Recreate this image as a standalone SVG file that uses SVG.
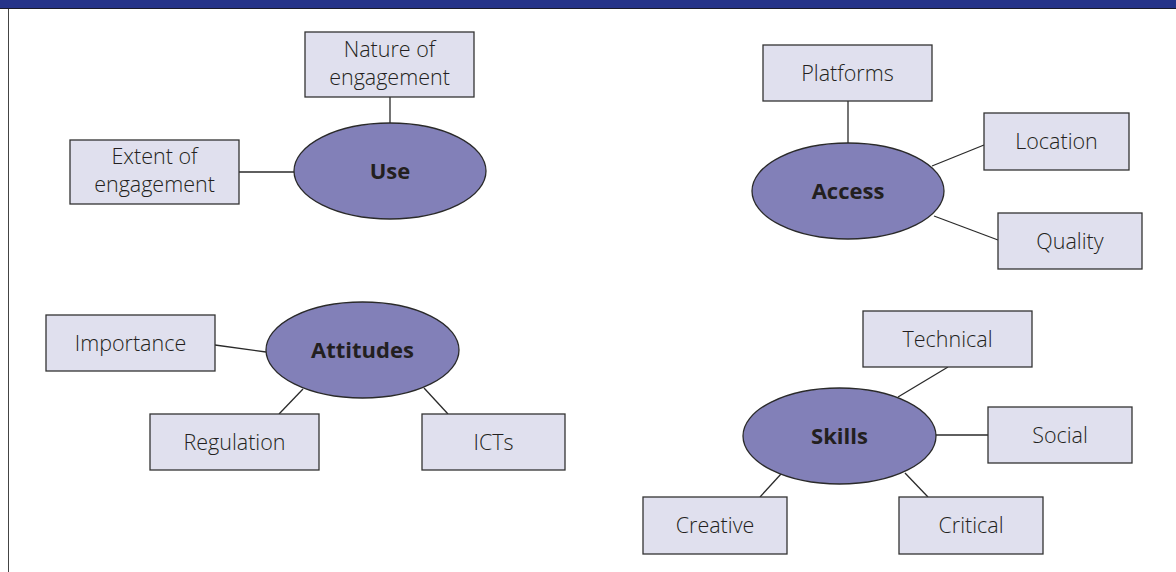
<svg xmlns="http://www.w3.org/2000/svg" width="1176" height="572" viewBox="0 0 1176 572">
<style>
.box{fill:#e0e0ee;stroke:#333;stroke-width:1.3}
.ell{fill:#8280b8;stroke:#2a2a2a;stroke-width:1.3}
.t{font-family:"Open Sans","Noto Sans","Liberation Sans",sans-serif;font-size:21.5px;font-weight:300;fill:#231f20;text-anchor:middle}
.b{font-weight:bold;font-size:22px}
.c line{stroke:#2a2a2a;stroke-width:1.3}
</style>
<rect x="0" y="0" width="1176" height="572" fill="#fff"/>
<rect x="0" y="0" width="1176" height="8" fill="#253389"/>
<line x1="0" y1="8.5" x2="1176" y2="8.5" stroke="#1a1a2a" stroke-width="1"/>
<line x1="8.5" y1="9" x2="8.5" y2="572" stroke="#444" stroke-width="1"/>
<g class="c" id="connectors">
<line x1="390" y1="97" x2="390" y2="123"/>
<line x1="239" y1="172" x2="294" y2="172"/>
<line x1="848" y1="101" x2="848" y2="143"/>
<line x1="932" y1="166" x2="984" y2="145"/>
<line x1="934" y1="216" x2="998" y2="240"/>
<line x1="215" y1="345" x2="266" y2="352"/>
<line x1="303" y1="389" x2="279" y2="414"/>
<line x1="424" y1="388" x2="448" y2="414"/>
<line x1="948" y1="367" x2="898" y2="397"/>
<line x1="936" y1="435" x2="988" y2="435"/>
<line x1="781" y1="474" x2="760" y2="497"/>
<line x1="905" y1="473" x2="928" y2="497"/>
</g>
<g id="use"><ellipse class="ell" cx="390" cy="171" rx="96" ry="48"/><text class="t b" x="390" y="179">Use</text></g>
<g id="nature"><rect class="box" x="305" y="32" width="169" height="65"/><text class="t" x="389.5" y="56.5">Nature of</text><text class="t" x="389.5" y="84.5">engagement</text></g>
<g id="extent"><rect class="box" x="70" y="140" width="169" height="64"/><text class="t" x="154.5" y="164">Extent of</text><text class="t" x="154.5" y="192">engagement</text></g>
<g id="access"><ellipse class="ell" cx="848" cy="191" rx="96" ry="48"/><text class="t b" x="848" y="199">Access</text></g>
<g id="platforms"><rect class="box" x="763" y="45" width="169" height="56"/><text class="t" x="847.5" y="80.5">Platforms</text></g>
<g id="location"><rect class="box" x="984" y="113" width="145" height="57"/><text class="t" x="1056.5" y="149">Location</text></g>
<g id="quality"><rect class="box" x="998" y="213" width="144" height="56"/><text class="t" x="1070" y="248.5">Quality</text></g>
<g id="attitudes"><ellipse class="ell" cx="362.5" cy="350" rx="96.5" ry="48"/><text class="t b" x="362.5" y="358">Attitudes</text></g>
<g id="importance"><rect class="box" x="46" y="315" width="169" height="56"/><text class="t" x="130.5" y="350.5">Importance</text></g>
<g id="regulation"><rect class="box" x="150" y="414" width="169" height="56"/><text class="t" x="234.5" y="449.5">Regulation</text></g>
<g id="icts"><rect class="box" x="422" y="414" width="143" height="56"/><text class="t" x="493.5" y="449.5">ICTs</text></g>
<g id="skills"><ellipse class="ell" cx="839.5" cy="436" rx="96.5" ry="48"/><text class="t b" x="839.5" y="444">Skills</text></g>
<g id="technical"><rect class="box" x="863" y="311" width="169" height="56"/><text class="t" x="947.5" y="346.5">Technical</text></g>
<g id="social"><rect class="box" x="988" y="407" width="144" height="56"/><text class="t" x="1060" y="442.5">Social</text></g>
<g id="creative"><rect class="box" x="643" y="497" width="144" height="57"/><text class="t" x="715" y="532.5">Creative</text></g>
<g id="critical"><rect class="box" x="899" y="497" width="144" height="57"/><text class="t" x="971" y="532.5">Critical</text></g>
</svg>
